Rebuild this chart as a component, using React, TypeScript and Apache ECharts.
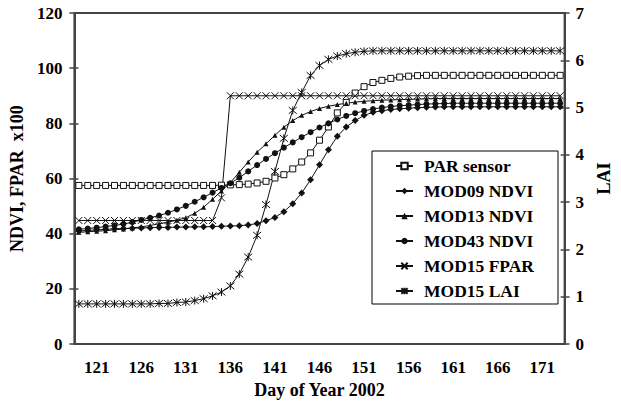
import React, { useEffect, useRef } from "react";
import * as echarts from "echarts";

// Days 119..173 (category axis)
const days: string[] = [];
for (let d = 119; d <= 173; d++) days.push(String(d));

const yTicksLeft = { min: 0, max: 120, interval: 20 };
const yTicksRight = { min: 0, max: 7, interval: 1 };

const parSensor = [
  57.5, 57.5, 57.5, 57.5, 57.5, 57.5, 57.5, 57.5, 57.5, 57.5, 57.5, 57.5, 57.5, 57.5, 57.5, 57.5,
  57.6, 57.7, 57.8, 58.0, 58.4, 59.0, 60.2, 61.4, 63.5, 66.0, 69.3, 73.9, 78.7, 83.8, 87.6, 91.0,
  93.3, 94.8, 95.6, 96.3, 96.8, 97.1, 97.3, 97.4,
  97.4, 97.4, 97.4, 97.4, 97.4, 97.4, 97.4, 97.4, 97.4, 97.4, 97.4, 97.4, 97.4, 97.4, 97.4,
];

const mod09 = [
  41.0, 41.2, 41.4, 41.6, 41.8, 41.9, 42.0, 42.1, 42.2, 42.3, 42.3, 42.4, 42.4, 42.5, 42.5, 42.6,
  42.7, 42.8, 42.9, 43.2, 43.7, 44.7, 45.9, 48.0, 50.9, 54.8, 59.6, 65.0, 70.4, 75.3, 78.7, 81.0,
  82.9, 84.0, 84.6, 85.0, 85.3, 85.5, 85.7, 85.8,
  85.9, 86.0, 86.0, 86.0, 86.0, 86.0, 86.0, 86.0, 86.0, 86.0, 86.0, 86.0, 86.0, 86.0, 86.0,
];

const mod13 = [
  40.5, 40.7, 40.9, 41.1, 41.4, 41.7, 42.1, 42.5, 43.0, 43.6, 44.2, 44.9, 45.8, 47.4, 49.6, 52.5,
  55.5, 58.5, 62.3, 66.0, 69.5, 72.6, 75.7, 78.6, 81.0, 82.9, 84.3, 85.4, 86.2, 86.8, 87.3, 87.7,
  88.0, 88.2, 88.4, 88.5, 88.6, 88.7, 88.8, 88.9,
  89.0, 89.0, 89.0, 89.0, 89.0, 89.0, 89.0, 89.0, 89.0, 89.0, 89.0, 89.0, 89.0, 89.0, 89.0,
];

const mod43 = [
  41.6, 41.9, 42.2, 42.6, 43.0, 43.5, 44.2, 45.0, 45.8, 46.6, 47.6, 48.8, 50.1, 51.6, 53.2, 54.9,
  56.6, 58.3, 60.3, 62.6, 64.9, 67.1, 69.2, 71.2, 73.1, 75.0, 76.8, 78.5, 80.0, 81.4, 82.7, 83.7,
  84.5, 85.2, 85.7, 86.1, 86.4, 86.6, 86.8, 87.0,
  87.1, 87.2, 87.3, 87.3, 87.3, 87.3, 87.3, 87.3, 87.3, 87.3, 87.3, 87.3, 87.3, 87.3, 87.3,
];

const mod15Fpar = [
  44.8, 44.8, 44.8, 44.8, 44.8, 44.8, 44.8, 44.8, 44.8, 44.8, 44.8, 44.8, 44.8, 44.8, 44.8, 44.8,
  53.0,
  90.0, 90.0, 90.0, 90.0, 90.0, 90.0, 90.0, 90.0, 90.0, 90.0, 90.0, 90.0, 90.0, 90.0, 90.0, 90.0,
  90.0, 90.0, 90.0, 90.0, 90.0, 90.0, 90.0, 90.0, 90.0, 90.0, 90.0, 90.0, 90.0, 90.0, 90.0, 90.0,
  90.0, 90.0, 90.0, 90.0, 90.0, 90.0,
];

const mod15Lai = [
  0.85, 0.85, 0.85, 0.85, 0.85, 0.85, 0.85, 0.85, 0.85,
  0.86, 0.86, 0.88, 0.89, 0.92, 0.96, 1.02, 1.1, 1.23, 1.48, 1.84, 2.3, 2.95, 3.65, 4.35,
  4.94, 5.32, 5.68, 5.89, 6.02, 6.09, 6.14, 6.17, 6.19,
  6.2, 6.2, 6.2, 6.2, 6.2, 6.2, 6.2, 6.2, 6.2, 6.2, 6.2, 6.2, 6.2, 6.2, 6.2, 6.2, 6.2, 6.2, 6.2,
  6.2, 6.2, 6.2,
];

const FONT = "Liberation Serif";
const AX = "#444";
const CROSS = "path://M0,0L10,10M10,0L0,10";
const STAR = "path://M0,0L10,10M10,0L0,10M5,-1L5,11";

export default function App() {
  const ref = useRef<HTMLDivElement>(null);
  useEffect(() => {
    if (!ref.current) return;
    const chart = echarts.init(ref.current, undefined, { renderer: "svg" });
    const line = { color: "#111", width: 1 };
    const tickFn = (i: number) => i % 5 === 0;
    const labelFn = (i: number) => i % 5 === 2;
    const labelStyle = { fontFamily: FONT, fontWeight: "bold" as const, fontSize: 17, color: "#000" };
    const nameStyle = { fontFamily: FONT, fontWeight: "bold" as const, fontSize: 18, color: "#000" };
    const richLabel = {
      ...labelStyle,
      formatter: "{t|{value}}",
      rich: { t: { ...labelStyle } },
    };
    const common = { type: "line", showAllSymbol: true, showSymbol: true, lineStyle: line };
    chart.setOption({
      animation: false,
      textStyle: { fontFamily: FONT, fontWeight: "bold" },
      grid: { left: 66, right: 41, top: 13, bottom: 56, show: true, borderColor: AX, borderWidth: 2 },
      legend: {
        orient: "vertical",
        left: 372,
        top: 151,
        backgroundColor: "#fff",
        borderColor: "#000",
        borderWidth: 1,
        padding: [6, 24, 4, 23],
        itemGap: 7,
        itemWidth: 17,
        itemHeight: 8,
        textStyle: { ...labelStyle, fontSize: 17.5, lineHeight: 17, padding: [0, 0, 0, 6] },
        data: ["PAR sensor", "MOD09 NDVI", "MOD13 NDVI", "MOD43 NDVI", "MOD15 FPAR", "MOD15 LAI"],
      },
      xAxis: [
        {
          type: "category",
          data: days,
          boundaryGap: true,
          axisLine: { lineStyle: { color: AX, width: 2 } },
          axisTick: { interval: tickFn, length: 5, lineStyle: { color: AX, width: 1.5 } },
          axisLabel: { interval: labelFn, margin: 15, ...richLabel },
          name: "Day of Year 2002",
          nameLocation: "middle",
          nameGap: 35,
          nameTextStyle: nameStyle,
          splitLine: { show: false },
        },
        {
          type: "category",
          data: days,
          position: "bottom",
          boundaryGap: true,
          axisLine: { show: false },
          axisTick: { inside: true, interval: tickFn, length: 4, lineStyle: { color: AX, width: 1.5 } },
          axisLabel: { show: false },
          splitLine: { show: false },
        },
      ],
      yAxis: [
        {
          type: "value",
          position: "left",
          ...yTicksLeft,
          axisLine: { show: true, lineStyle: { color: AX, width: 2 } },
          axisTick: { show: true, length: 5, lineStyle: { color: AX, width: 1.5 } },
          axisLabel: { margin: 12, ...richLabel },
          splitLine: { show: false },
          name: "NDVI, FPAR  x100",
          nameLocation: "middle",
          nameRotate: 90,
          nameGap: 43,
          nameTextStyle: nameStyle,
        },
        {
          type: "value",
          position: "right",
          ...yTicksRight,
          axisLine: { show: true, lineStyle: { color: AX, width: 2 } },
          axisTick: { show: true, length: 5, lineStyle: { color: AX, width: 1.5 } },
          axisLabel: { margin: 11, ...richLabel },
          splitLine: { show: false },
          name: "LAI",
          nameLocation: "middle",
          nameRotate: 90,
          nameGap: 25,
          nameTextStyle: nameStyle,
        },
        {
          type: "value",
          position: "left",
          ...yTicksLeft,
          axisLine: { show: false },
          axisTick: { show: true, inside: true, length: 4, lineStyle: { color: AX, width: 1.5 } },
          axisLabel: { show: false },
          splitLine: { show: false },
        },
        {
          type: "value",
          position: "right",
          ...yTicksRight,
          axisLine: { show: false },
          axisTick: { show: true, inside: true, length: 4, lineStyle: { color: AX, width: 1.5 } },
          axisLabel: { show: false },
          splitLine: { show: false },
        },
      ],
      series: [
        {
          ...common,
          name: "PAR sensor",
          data: parSensor,
          symbol: "rect",
          symbolSize: 6,
          itemStyle: { color: "#fff", borderColor: "#111", borderWidth: 1 },
        },
        {
          ...common,
          name: "MOD09 NDVI",
          data: mod09,
          symbol: "diamond",
          symbolSize: 7,
          itemStyle: { color: "#111" },
        },
        {
          ...common,
          name: "MOD13 NDVI",
          data: mod13,
          symbol: "triangle",
          symbolSize: 5,
          itemStyle: { color: "#111" },
        },
        {
          ...common,
          name: "MOD43 NDVI",
          data: mod43,
          symbol: "circle",
          symbolSize: 6,
          itemStyle: { color: "#111" },
        },
        {
          ...common,
          name: "MOD15 FPAR",
          data: mod15Fpar,
          symbol: CROSS,
          symbolSize: 7,
          itemStyle: { color: "#111", borderColor: "#111", borderWidth: 1 },
        },
        {
          ...common,
          name: "MOD15 LAI",
          yAxisIndex: 1,
          data: mod15Lai,
          symbol: STAR,
          symbolSize: 8,
          itemStyle: { color: "#111", borderColor: "#111", borderWidth: 1 },
        },
      ],
    });
    return () => chart.dispose();
  }, []);
  return <div ref={ref} style={{ width: 621, height: 404, position: "absolute", left: 0, top: 0 }} />;
}
